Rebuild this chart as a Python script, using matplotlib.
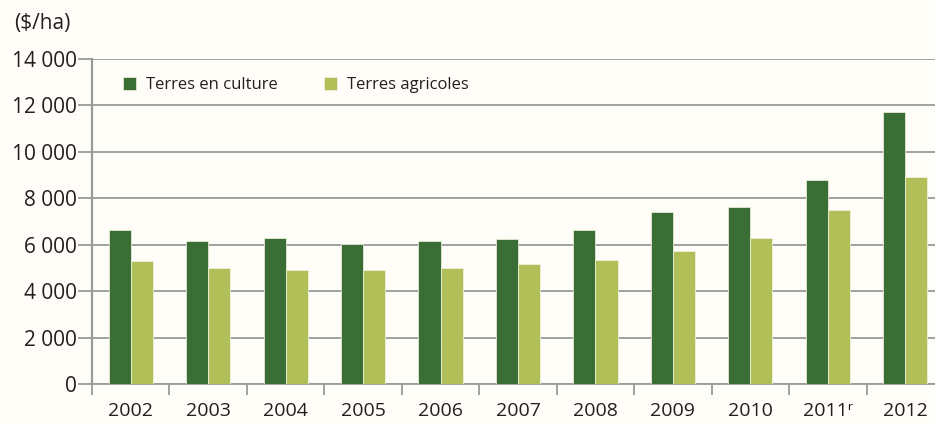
import numpy as np
import matplotlib
matplotlib.use("Agg")
import matplotlib.pyplot as plt

years = ["2002", "2003", "2004", "2005", "2006", "2007", "2008", "2009", "2010",
         "2011\u02b3", "2012"]
culture = [6650, 6150, 6300, 6030, 6150, 6250, 6630, 7420, 7630, 8780, 11720]
agricoles = [5300, 5000, 4920, 4900, 5000, 5170, 5340, 5740, 6300, 7500, 8930]

dark = "#3b6e35"
light = "#b1bf59"
bg = "#fffdf7"
grey = "#9a9a9a"

plt.rcParams['font.family'] = ['Open Sans', 'DejaVu Sans']

fig = plt.figure(figsize=(9.35, 4.24), dpi=100, facecolor=bg)
ax = fig.add_axes([92/935, 1 - 384/424, 852/935, 325/424], facecolor=bg)

x = np.arange(len(years))
w = 0.285
ax.bar(x - w/2, culture, w, color=dark, edgecolor="#e6ead6", linewidth=0.6,
       label="Terres en culture", zorder=3)
ax.bar(x + w/2, agricoles, w, color=light, edgecolor="#eef0dc", linewidth=0.6,
       label="Terres agricoles", zorder=3)

ax.set_xlim(-0.5, len(years) - 0.5)
ax.set_ylim(0, 14000)
ax.set_yticks(range(0, 14001, 2000))
ax.set_yticklabels([f"{v:,}".replace(",", " ") for v in range(0, 14001, 2000)])
ax.yaxis.grid(True, color=grey, linewidth=1.3, zorder=0)
ax.set_axisbelow(True)

ax.set_xticks(np.arange(len(years) + 1) - 0.5)
ax.set_xticklabels([])
ax.set_xticks(x, minor=True)
ax.set_xticklabels(years, minor=True)
ax.tick_params(axis="x", which="major", length=8, width=1.3, color=grey, direction="out")
ax.tick_params(axis="x", which="minor", length=0, pad=13, labelsize=14, labelcolor="#231f20")
ax.tick_params(axis="y", length=10, width=1.3, color=grey, labelsize=15,
               labelcolor="#231f20", pad=1)

for s in ["top", "right"]:
    ax.spines[s].set_visible(False)
ax.spines["left"].set_color(grey)
ax.spines["left"].set_linewidth(1.6)
ax.spines["bottom"].set_color(grey)
ax.spines["bottom"].set_linewidth(1.3)

fig.text(14/935, 1 - 23/424, "($/ha)", fontsize=15, color="#231f20", va="center")

leg = ax.legend(loc="upper left", bbox_to_anchor=(0.019, 0.99), ncol=2, frameon=False,
                fontsize=12, handlelength=0.75, handleheight=0.75, handletextpad=0.6,
                columnspacing=2.8)
for t in leg.get_texts():
    t.set_color("#231f20")

fig.savefig("out.png", dpi=100, facecolor=bg)
